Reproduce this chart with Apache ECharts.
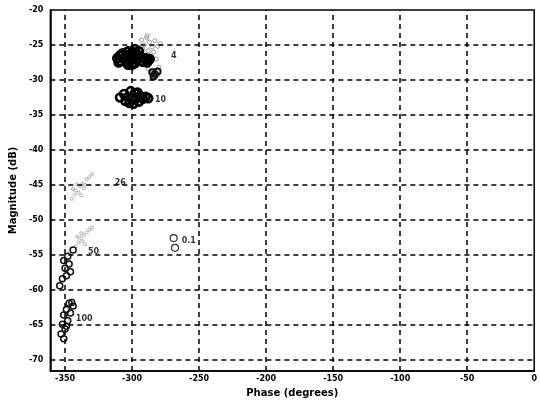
<!DOCTYPE html>
<html>
<head>
<meta charset="utf-8">
<style>
  html, body { margin: 0; padding: 0; background: #fff; }
  #chart { width: 540px; height: 405px; }
</style>
<script src="https://cdn.jsdelivr.net/npm/echarts@6/dist/echarts.min.js"></script>
</head>
<body>
<div id="chart"></div>
<script>
// Axis ticks
const phaseTicks = [-350, -300, -250, -200, -150, -100, -50, 0];
const magTicks = [-20, -25, -30, -35, -40, -45, -50, -55, -60, -65, -70];

// Frequency 0.1
const f01Phase = [-269, -268];
const f01Mag = [-52.6, -54.0];

// Frequency 4: dense core
const f4Phase = [-311, -310, -309, -309, -307, -306, -305, -304, -303, -302, -301, -300, -300, -299, -298, -297, -296, -295, -294, -293, -292, -290, -289, -288, -287, -303, -298];
const f4Mag = [-26.9, -27.5, -26.5, -27.3, -26.2, -27.0, -26.6, -27.4, -25.9, -26.5, -27.2, -26.0, -27.8, -26.8, -27.6, -26.3, -27.1, -25.9, -26.6, -26.8, -27.4, -26.9, -27.5, -27.2, -27.0, -27.8, -25.6];
// Frequency 4: scattered spread
const f4SpreadPhase = [-293, -291, -289, -287, -285, -283, -281, -279, -288, -284, -290, -288, -286, -285, -283, -281, -280, -284, -286, -292, -282, -289];
const f4SpreadMag = [-24.3, -25.0, -24.0, -24.6, -25.3, -24.4, -25.2, -24.8, -25.8, -26.0, -27.8, -28.4, -27.5, -29.0, -28.6, -29.3, -28.2, -29.6, -26.8, -25.6, -27.0, -23.7];
// Frequency 4: lower dark knot
const f4KnotPhase = [-285, -283, -281, -284];
const f4KnotMag = [-28.9, -29.2, -28.8, -29.5];

// Frequency 10
const f10Phase = [-309, -306, -305, -303, -301, -300, -299, -298, -297, -295, -294, -292, -290, -288, -302, -296];
const f10Mag = [-32.5, -32.0, -33.0, -32.4, -31.6, -32.8, -33.4, -31.9, -32.6, -33.1, -32.3, -32.7, -32.4, -32.6, -33.3, -31.8];

// Frequency 26
const f26Phase = [-345, -343, -342, -340, -339, -337, -336, -334, -332, -330, -338, -341, -335, -344];
const f26Mag = [-47.0, -46.4, -45.8, -46.1, -45.2, -44.8, -45.5, -44.2, -43.9, -43.5, -46.5, -44.9, -45.0, -45.6];

// Frequency 50
const f50SpreadPhase = [-342, -340, -339, -337, -336, -334, -332, -330, -338, -335, -341];
const f50SpreadMag = [-53.8, -53.2, -52.6, -53.0, -52.2, -51.8, -51.4, -51.1, -51.9, -53.5, -52.4];
const f50Phase = [-344, -348, -351, -347, -350, -346, -349, -352, -354];
const f50Mag = [-54.3, -55.2, -55.8, -56.3, -56.9, -57.4, -58.0, -58.4, -59.4];

// Frequency 100
const f100Phase = [-345, -347, -344, -349, -346, -351, -348, -352, -350, -353, -351, -349];
const f100Mag = [-61.8, -61.9, -62.3, -62.8, -63.3, -63.6, -64.4, -64.9, -65.6, -66.3, -67.0, -65.2];

// Frequency annotations
const tagText = ['0.1', '4', '10', '26', '50', '100'];
const tagPhase = [-263, -271, -283, -313, -333, -342];
const tagMag = [-53.0, -26.6, -32.9, -44.7, -54.6, -64.1];

const zip = (xs, ys) => xs.map((x, i) => [x, ys[i]]);

const gridPhase = phaseTicks.filter(v => v > -360 && v < 0);
const gridMag = magTicks.filter(v => v > -71 && v < -20);

const FONT = 'DejaVu Sans';

// ring markers with see-through centres so overlapping rings build up
function rings(xs, ys, color, size, width) {
  return {
    type: 'scatter',
    data: zip(xs, ys),
    symbol: 'circle',
    symbolSize: size,
    itemStyle: { color: 'rgba(0,0,0,0)', borderColor: color, borderWidth: width, opacity: 1 },
    z: 3,
    silent: true
  };
}

const chart = echarts.init(document.getElementById('chart'), null, { renderer: 'canvas' });

chart.setOption({
  animation: false,
  backgroundColor: '#fff',
  grid: {
    left: 47, right: 2, top: 10, bottom: 34,
    show: true, borderColor: '#000', borderWidth: 1.5, backgroundColor: 'transparent'
  },
  xAxis: {
    type: 'value',
    min: -361, max: 0,
    name: 'Phase (degrees)',
    nameLocation: 'middle',
    nameGap: 17,
    nameTextStyle: { fontFamily: FONT, fontWeight: 'bold', fontSize: 10, color: '#000' },
    axisLine: { show: true, onZero: false, lineStyle: { color: '#000', width: 1.5 } },
    axisTick: { show: false },
    splitLine: { show: false },
    axisLabel: {
      customValues: phaseTicks,
      margin: 4,
      fontFamily: FONT, fontWeight: 'bold', fontSize: 8, color: '#000'
    }
  },
  yAxis: {
    type: 'value',
    min: -71.6, max: -20,
    name: 'Magnitude (dB)',
    nameLocation: 'middle',
    nameGap: 32,
    nameTextStyle: { fontFamily: FONT, fontWeight: 'bold', fontSize: 10, color: '#000' },
    axisLine: { show: true, onZero: false, lineStyle: { color: '#000', width: 1.5 } },
    axisTick: { show: false },
    splitLine: { show: false },
    axisLabel: {
      customValues: magTicks,
      margin: 7,
      fontFamily: FONT, fontWeight: 'bold', fontSize: 8, color: '#000'
    }
  },
  series: [
    {
      // dashed reference grid
      type: 'scatter',
      data: [],
      z: 1,
      silent: true,
      markLine: {
        silent: true,
        symbol: ['none', 'none'],
        label: { show: false },
        lineStyle: { color: '#000', width: 1.5, type: [5, 4] },
        data: gridPhase.map(v => ({ xAxis: v })).concat(gridMag.map(v => ({ yAxis: v })))
      }
    },
    rings(f01Phase, f01Mag, '#333', 7, 1.2),
    rings(f4SpreadPhase, f4SpreadMag, '#9a9a9a', 4, 1),
    rings(f4KnotPhase, f4KnotMag, '#111', 6, 2),
    rings(f4Phase, f4Mag, '#000', 8, 2.8),
    rings(f10Phase, f10Mag, '#000', 8, 2.6),
    rings(f26Phase, f26Mag, '#b0b0b0', 3, 1),
    rings(f50SpreadPhase, f50SpreadMag, '#b0b0b0', 3, 1),
    rings(f50Phase, f50Mag, '#111', 6, 1.5),
    rings(f100Phase, f100Mag, '#111', 6, 1.5),
    {
      // frequency tags
      type: 'scatter',
      data: tagText.map((t, i) => ({ value: [tagPhase[i], tagMag[i]], name: t })),
      symbolSize: 0,
      z: 4,
      silent: true,
      label: {
        show: true,
        position: 'inside',
        align: 'left',
        verticalAlign: 'middle',
        formatter: p => p.name,
        fontFamily: FONT, fontWeight: 'bold', fontSize: 8, color: '#000'
      }
    }
  ]
});
</script>
</body>
</html>
